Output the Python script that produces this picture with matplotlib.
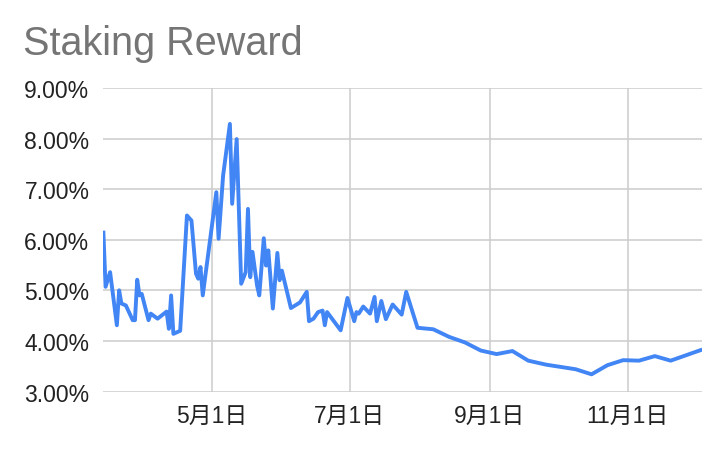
import numpy as np
import pandas as pd
import matplotlib
matplotlib.use('Agg')
import matplotlib.pyplot as plt
import matplotlib.dates as mdates
from matplotlib.ticker import FuncFormatter

# Staking reward (%)
dates = [
    '2021-03-14', '2021-03-15', '2021-03-17', '2021-03-20', '2021-03-21', '2021-03-22',
    '2021-03-24', '2021-03-27', '2021-03-28', '2021-03-29', '2021-03-30', '2021-03-31',
    '2021-04-03', '2021-04-04', '2021-04-07', '2021-04-11', '2021-04-12', '2021-04-13',
    '2021-04-14', '2021-04-17', '2021-04-20', '2021-04-22', '2021-04-24', '2021-04-25',
    '2021-04-26', '2021-04-27', '2021-05-03', '2021-05-04', '2021-05-06', '2021-05-09',
    '2021-05-10', '2021-05-12', '2021-05-14', '2021-05-16', '2021-05-17', '2021-05-18',
    '2021-05-19', '2021-05-21', '2021-05-22', '2021-05-24', '2021-05-25', '2021-05-26',
    '2021-05-28', '2021-05-30', '2021-05-31', '2021-06-01', '2021-06-05', '2021-06-09',
    '2021-06-12', '2021-06-13', '2021-06-15', '2021-06-17', '2021-06-19', '2021-06-20',
    '2021-06-21', '2021-06-27', '2021-06-30', '2021-07-03', '2021-07-04', '2021-07-05',
    '2021-07-07', '2021-07-10', '2021-07-12', '2021-07-13', '2021-07-15', '2021-07-17',
    '2021-07-20', '2021-07-24', '2021-07-26', '2021-07-31', '2021-08-07', '2021-08-14',
    '2021-08-21', '2021-08-28', '2021-09-04', '2021-09-11', '2021-09-18', '2021-09-26',
    '2021-10-09', '2021-10-16', '2021-10-23', '2021-10-30', '2021-11-06', '2021-11-13',
    '2021-11-20', '2021-11-27', '2021-12-04',
]
reward = [
    6.18, 5.07, 5.36, 4.31, 5.00, 4.74,
    4.70, 4.41, 4.41, 5.21, 4.90, 4.93,
    4.41, 4.54, 4.44, 4.58, 4.24, 4.90,
    4.14, 4.20, 6.48, 6.38, 5.33, 5.23,
    5.46, 4.90, 6.94, 6.02, 7.27, 8.29,
    6.71, 7.99, 5.13, 5.36, 6.61, 5.26,
    5.76, 5.10, 4.90, 6.03, 5.49, 5.79,
    4.64, 5.74, 5.20, 5.39, 4.65, 4.76,
    4.97, 4.39, 4.44, 4.57, 4.60, 4.31,
    4.57, 4.21, 4.85, 4.39, 4.57, 4.54,
    4.68, 4.54, 4.87, 4.39, 4.79, 4.43,
    4.72, 4.52, 4.97, 4.26, 4.23, 4.08,
    3.97, 3.81, 3.74, 3.80, 3.61, 3.53,
    3.44, 3.34, 3.52, 3.62, 3.61, 3.70,
    3.61, 3.72, 3.83,
]
tick_dates = ['2021-05-01', '2021-07-01', '2021-09-01', '2021-11-01']
tick_labels = ['5月1日', '7月1日', '9月1日', '11月1日']
y_ticks = [3, 4, 5, 6, 7, 8, 9]

fonts = ['Liberation Sans', 'Noto Sans CJK JP', 'DejaVu Sans']
plt.rcParams['font.family'] = fonts

x = pd.to_datetime(dates)

fig = plt.figure(figsize=(7.25, 4.52), dpi=100)
ax = fig.add_axes([0.1425, 0.1316, 0.9687 - 0.1425, 0.8031 - 0.1316])

ax.plot(x, reward, color='#4285F4', linewidth=2.8, solid_joinstyle='round',
        solid_capstyle='butt', zorder=3)

ax.set_xlim(x[0], x[-1])
ax.set_ylim(3, 9)
ax.set_yticks(y_ticks)
ax.yaxis.set_major_formatter(FuncFormatter(lambda v, _: f'{v:.2f}%'))
ax.set_xticks(pd.to_datetime(tick_dates))
ax.set_xticklabels(tick_labels)

ax.grid(True, color='#cccccc', linewidth=1.1, zorder=0)
for s in ax.spines.values():
    s.set_visible(False)
ax.tick_params(axis='both', length=0, labelsize=16.5, labelcolor='#222222')
ax.tick_params(axis='y', pad=10)
ax.tick_params(axis='x', pad=9)

fig.text(23 / 725, 1 - 55 / 452, 'Staking Reward', fontsize=28.5,
         color='#757575', ha='left', va='baseline')

fig.savefig('out.png', dpi=100, facecolor='white')
